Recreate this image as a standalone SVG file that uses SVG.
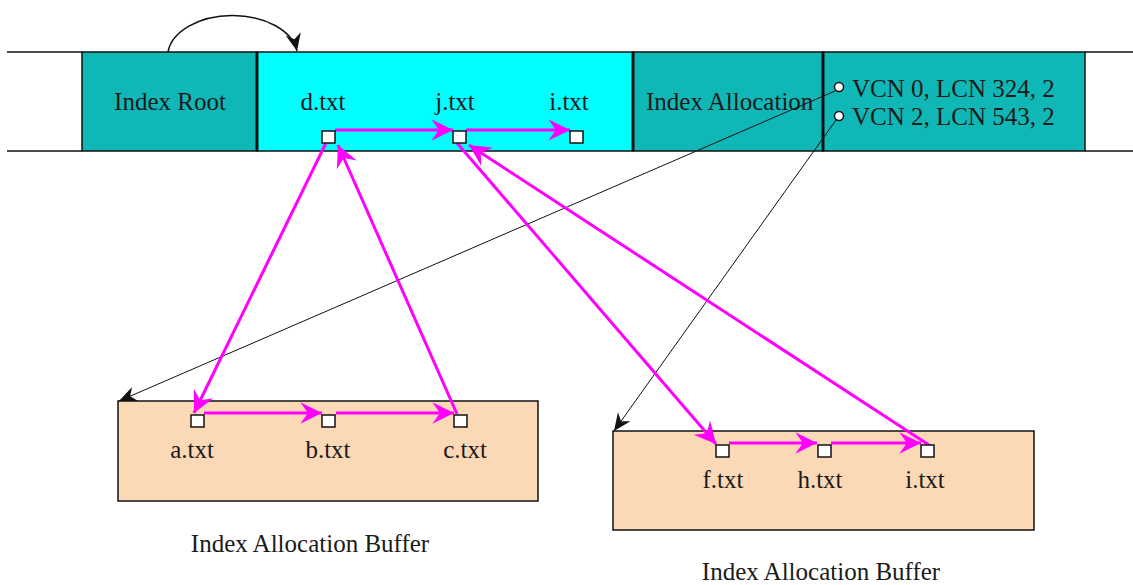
<svg xmlns="http://www.w3.org/2000/svg" width="1133" height="585" viewBox="0 0 1133 585">
  <style>
    .lbl { font-family: "Liberation Serif", "Times New Roman", serif; font-size: 25px; fill: #1a1a1a; }
    .mid { text-anchor: middle; }
    .edge { stroke: #111; stroke-width: 1.5; fill: none; }
    .div { stroke: #111; stroke-width: 3; }
    .slot { fill: #ffffff; stroke: #111; stroke-width: 1.5; }
    .ptr { stroke: #ff00ff; stroke-width: 3; fill: none; marker-end: url(#mag); }
    .run { stroke: #111; stroke-width: 1; fill: none; marker-end: url(#blk); }
  </style>
  <defs>
    <marker id="mag" markerUnits="userSpaceOnUse" markerWidth="26" markerHeight="26" viewBox="-22 -12 24 24" refX="0" refY="0" orient="auto">
      <path d="M0,0 L-20,-10 L-13,0 L-20,10 Z" fill="#ff00ff"/>
    </marker>
    <marker id="blk" markerUnits="userSpaceOnUse" markerWidth="22" markerHeight="22" viewBox="-18 -9 20 18" refX="0" refY="0" orient="auto">
      <path d="M0,0 L-16,-7 L-11,0 L-16,7 Z" fill="#111"/>
    </marker>
  </defs>
  <rect width="1133" height="585" fill="#ffffff"/>

  <!-- MFT record strip -->
  <g id="record">
    <line class="edge" x1="7" y1="52" x2="82" y2="52"/>
    <line class="edge" x1="7" y1="151" x2="82" y2="151"/>
    <line class="edge" x1="1085" y1="52" x2="1133" y2="52"/>
    <line class="edge" x1="1085" y1="151" x2="1133" y2="151"/>
  </g>

  <g id="index-root">
    <rect x="82" y="52" width="175" height="99" fill="#0fb7b7" stroke="#111" stroke-width="1.5"/>
    <text class="lbl mid" x="170" y="110">Index Root</text>
  </g>

  <g id="root-entries">
    <rect x="257" y="52" width="376" height="99" fill="#00ffff" stroke="#111" stroke-width="1.5"/>
    <text class="lbl mid" x="323" y="110">d.txt</text>
    <text class="lbl mid" x="455" y="110">j.txt</text>
    <text class="lbl mid" x="569" y="110">i.txt</text>
  </g>

  <g id="index-allocation">
    <rect x="633" y="52" width="190" height="99" fill="#0fb7b7" stroke="#111" stroke-width="1.5"/>
    <text class="lbl" x="646" y="110">Index Allocation</text>
  </g>

  <g id="runs">
    <rect x="823" y="52" width="262" height="99" fill="#0fb7b7" stroke="#111" stroke-width="1.5"/>
    <text class="lbl" x="852" y="97">VCN 0, LCN 324, 2</text>
    <text class="lbl" x="852" y="125">VCN 2, LCN 543, 2</text>
  </g>

  <!-- column dividers -->
  <g id="dividers">
    <line class="div" x1="257" y1="52" x2="257" y2="151"/>
    <line class="div" x1="633" y1="52" x2="633" y2="151"/>
    <line class="div" x1="823" y1="52" x2="823" y2="151"/>
  </g>

  <g id="buffer-1">
    <rect x="118" y="401" width="420" height="100" fill="#fcd9b6" stroke="#111" stroke-width="1.5"/>
    <text class="lbl mid" x="192" y="458">a.txt</text>
    <text class="lbl mid" x="328" y="458">b.txt</text>
    <text class="lbl mid" x="465" y="458">c.txt</text>
    <text class="lbl mid" x="310" y="552">Index Allocation Buffer</text>
  </g>

  <g id="buffer-2">
    <rect x="613" y="431" width="421" height="99" fill="#fcd9b6" stroke="#111" stroke-width="1.5"/>
    <text class="lbl mid" x="723" y="488">f.txt</text>
    <text class="lbl mid" x="820" y="488">h.txt</text>
    <text class="lbl mid" x="925" y="488">i.txt</text>
    <text class="lbl mid" x="821" y="580">Index Allocation Buffer</text>
  </g>

  <g id="connectors">
    <!-- root attribute leads into the entries -->
    <path class="edge" d="M168,52 A65,41 0 0 1 297,51" marker-end="url(#blk)"/>

    <!-- run list to buffers -->
    <line class="run" x1="835" y1="91" x2="119" y2="401"/>
    <line class="run" x1="836" y1="120" x2="614" y2="431"/>

    <!-- entry chains -->
    <line class="ptr" x1="335" y1="130" x2="453" y2="130"/>
    <line class="ptr" x1="466" y1="130" x2="570" y2="130"/>
    <line class="ptr" x1="204" y1="413" x2="322" y2="413"/>
    <line class="ptr" x1="336" y1="413" x2="454" y2="413"/>
    <line class="ptr" x1="729" y1="443" x2="817" y2="443"/>
    <line class="ptr" x1="831" y1="443" x2="921" y2="443"/>

    <!-- child / parent links -->
    <line class="ptr" x1="326" y1="143" x2="194" y2="413"/>
    <line class="ptr" x1="457" y1="414" x2="338" y2="145"/>
    <line class="ptr" x1="457" y1="143" x2="716" y2="444"/>
    <line class="ptr" x1="932" y1="447" x2="469" y2="145"/>
  </g>

  <!-- entry slots -->
  <g id="slots">
    <rect class="slot" x="322" y="131" width="13" height="12"/>
    <rect class="slot" x="453" y="131" width="13" height="12"/>
    <rect class="slot" x="570" y="131" width="13" height="12"/>
    <rect class="slot" x="191" y="415" width="13" height="12"/>
    <rect class="slot" x="322" y="415" width="13" height="12"/>
    <rect class="slot" x="454" y="415" width="13" height="12"/>
    <rect class="slot" x="716" y="445" width="13" height="12"/>
    <rect class="slot" x="818" y="445" width="13" height="12"/>
    <rect class="slot" x="921" y="445" width="13" height="12"/>
    <circle class="slot" cx="839" cy="87" r="4.5"/>
    <circle class="slot" cx="839" cy="116" r="4.5"/>
  </g>
</svg>
